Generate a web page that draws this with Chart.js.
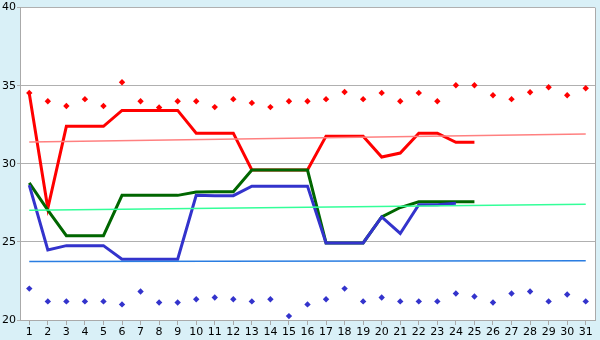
<!DOCTYPE html>
<html>
<head>
<meta charset="utf-8">
<script src="https://cdn.jsdelivr.net/npm/chart.js@4/dist/chart.umd.min.js"></script>
<style>
  html, body { margin: 0; padding: 0; background: #d9f0f7; }
  #wrap { width: 600px; height: 340px; }
</style>
</head>
<body>
<div id="wrap"><canvas id="c" width="600" height="340"></canvas></div>
<script>
// days of the month
var days = [];
for (var i = 1; i <= 31; i++) { days.push(String(i)); }

var yTicks = [20, 25, 30, 35, 40];

// upper markers (red points)
var redDots = [34.54, 34.0, 33.7, 34.14, 33.7, 35.22, 34.0, 33.6, 34.0, 34.0,
               33.63, 34.14, 33.9, 33.63, 34.0, 34.0, 34.14, 34.6, 34.14, 34.54,
               34.0, 34.54, 34.0, 35.03, 35.03, 34.39, 34.14, 34.58, 34.9, 34.39, 34.84];
// lower markers (blue points)
var blueDots = [22.01, 21.19, 21.19, 21.19, 21.19, 21.0, 21.82, 21.12, 21.12, 21.33,
                21.44, 21.33, 21.19, 21.33, 20.25, 21.0, 21.33, 22.01, 21.19, 21.44,
                21.19, 21.19, 21.19, 21.7, 21.5, 21.12, 21.7, 21.82, 21.19, 21.63, 21.19];

var redLine   = [34.5, 27.15, 32.4, 32.4, 32.4, 33.42, 33.42, 33.42, 33.42, 31.96,
                 31.96, 31.96, 29.6, 29.6, 29.6, 29.6, 31.77, 31.77, 31.77, 30.43,
                 30.69, 31.96, 31.96, 31.38, 31.38];
var greenLine = [28.78, 27.03, 25.4, 25.4, 25.4, 27.98, 27.98, 27.98, 27.98, 28.19,
                 28.21, 28.21, 29.6, 29.6, 29.6, 29.6, 24.93, 24.93, 24.93, 26.6,
                 27.2, 27.57, 27.57, 27.57, 27.57];
var blueLine  = [28.63, 24.49, 24.76, 24.76, 24.76, 23.89, 23.89, 23.89, 23.89, 27.98,
                 27.96, 27.96, 28.57, 28.57, 28.57, 28.57, 24.93, 24.93, 24.93, 26.6,
                 25.54, 27.38, 27.38, 27.47];

// trend lines: value at day 1 and at day 31
var redTrend   = [31.4, 31.9];
var greenTrend = [27.03, 27.41];
var blueTrend  = [23.75, 23.8];

function ends(t) {
  return [{ x: days[0], y: t[0] }, { x: days[days.length - 1], y: t[1] }];
}

var frame = {
  id: 'frame',
  beforeDraw: function (chart) {
    var ctx = chart.ctx, a = chart.chartArea;
    ctx.save();
    ctx.fillStyle = '#d9f0f7';
    ctx.fillRect(0, 0, chart.width, chart.height);
    ctx.fillStyle = '#ffffff';
    ctx.fillRect(a.left, a.top, a.right - a.left, a.bottom - a.top);
    ctx.restore();
  },
  afterDraw: function (chart) {
    var ctx = chart.ctx, a = chart.chartArea;
    ctx.save();
    ctx.strokeStyle = '#aaaaaa';
    ctx.lineWidth = 1;
    ctx.beginPath();
    ctx.moveTo(Math.round(a.right) + 0.5, a.top);
    ctx.lineTo(Math.round(a.right) + 0.5, a.bottom);
    ctx.stroke();
    ctx.restore();
  }
};

var lineDs = function (label, data, color, w) {
  return { label: label, data: data, borderColor: color, backgroundColor: color,
           borderWidth: w, pointRadius: 0, tension: 0, fill: false };
};
var dotDs = function (label, data, color) {
  return { label: label, data: data, showLine: false, pointStyle: 'rectRot',
           pointRadius: 3.2, pointBorderWidth: 0, pointBackgroundColor: color,
           borderColor: color, backgroundColor: color };
};

new Chart(document.getElementById('c'), {
  type: 'line',
  data: {
    labels: days,
    datasets: [
      lineDs('redTrend', ends(redTrend), '#ff8080', 1.5),
      lineDs('greenTrend', ends(greenTrend), '#33ff99', 1.5),
      lineDs('blueTrend', ends(blueTrend), '#2a7de1', 1.5),
      dotDs('redDots', redDots, '#ff0000'),
      dotDs('blueDots', blueDots, '#3333cc'),
      lineDs('blue', blueLine, '#3333cc', 3),
      lineDs('green', greenLine, '#006600', 3),
      lineDs('red', redLine, '#ff0000', 3)
    ]
  },
  options: {
    responsive: false,
    animation: false,
    layout: { padding: { top: 5, right: 5, left: 0, bottom: 0 } },
    plugins: { legend: { display: false }, tooltip: { enabled: false } },
    scales: {
      x: {
        offset: true,
        grid: { display: true, drawOnChartArea: false, drawTicks: true, tickLength: 5, color: '#aaaaaa', offset: false },
        border: { color: '#aaaaaa' },
        ticks: { color: '#000', font: { family: 'DejaVu Sans', size: 11 }, padding: 1, maxRotation: 0, autoSkip: false },
        afterFit: function (s) { s.height = 20; }
      },
      y: {
        min: 20, max: 40,
        afterBuildTicks: function (s) { s.ticks = yTicks.map(function (v) { return { value: v }; }); },
        grid: { color: '#b0b0b0', tickLength: 3 },
        border: { color: '#aaaaaa' },
        ticks: { color: '#000', font: { family: 'DejaVu Sans', size: 11 }, padding: 1 },
        afterFit: function (s) { s.width = 20; }
      }
    }
  },
  plugins: [frame]
});
</script>
</body>
</html>
